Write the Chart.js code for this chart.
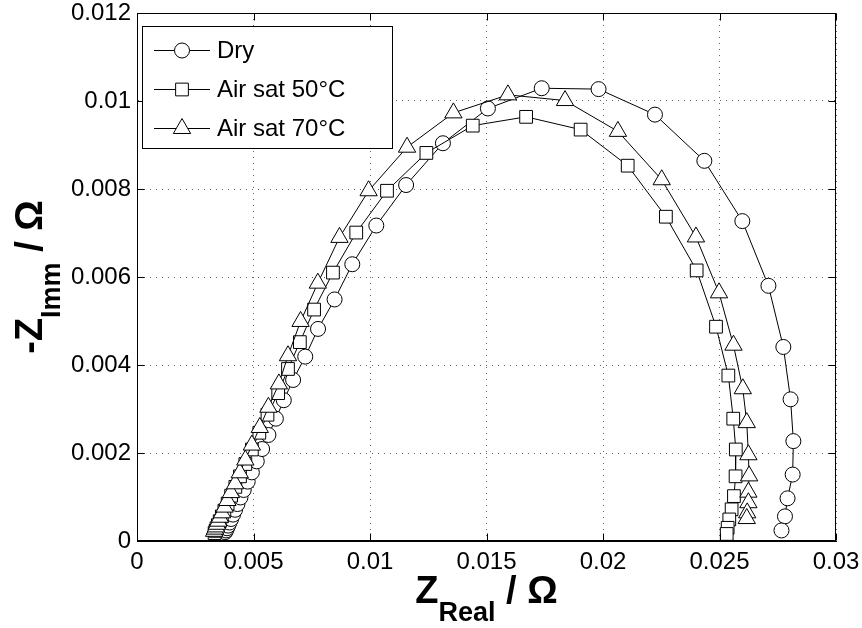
<!DOCTYPE html>
<html>
<head>
<meta charset="utf-8">
<script src="https://cdn.jsdelivr.net/npm/chart.js@4/dist/chart.umd.min.js"></script>
<style>
  html, body { margin: 0; padding: 0; background: #fff; }
  #wrap { width: 862px; height: 628px; }
</style>
</head>
<body>
<div id="wrap"><canvas id="nyquistChart" width="862" height="628"></canvas></div>
<script>
// Nyquist data, Z real / -Z imm in Ohm
const dryReal = [0.00378, 0.00382, 0.00386, 0.00391, 0.00397, 0.00404, 0.00412, 0.00421, 0.00431, 0.00444,
  0.00458, 0.00475, 0.00493, 0.00514, 0.00537, 0.00564, 0.00596, 0.00630, 0.00670,
  0.00722, 0.00777, 0.00848, 0.00924, 0.01027, 0.01155, 0.01313, 0.01506, 0.01737, 0.01981,
  0.02223, 0.02435, 0.02598, 0.02710, 0.02774, 0.02805, 0.02817, 0.02814, 0.02792, 0.02781, 0.02766];
const dryImm = [0.00020, 0.00024, 0.00029, 0.00035, 0.00042, 0.00050, 0.00060, 0.00071, 0.00084, 0.00099,
  0.00116, 0.00135, 0.00156, 0.00181, 0.00209, 0.00241, 0.00278, 0.00320, 0.00366,
  0.00419, 0.00482, 0.00549, 0.00629, 0.00717, 0.00809, 0.00904, 0.00983, 0.01029, 0.01027,
  0.00969, 0.00864, 0.00727, 0.00580, 0.00441, 0.00322, 0.00227, 0.00151, 0.00097, 0.00056, 0.00024];

const sat50Real = [0.00333, 0.00337, 0.00341, 0.00347, 0.00355, 0.00364, 0.00375, 0.00389, 0.00404, 0.00422,
  0.00442, 0.00465, 0.00493, 0.00525, 0.00560, 0.00606,
  0.00648, 0.00699, 0.00760, 0.00841, 0.00941, 0.01073, 0.01242, 0.01441, 0.01670, 0.01904,
  0.02106, 0.02270, 0.02402, 0.02485, 0.02538, 0.02559, 0.02570, 0.02569, 0.02562, 0.02552, 0.02542, 0.02535, 0.02531];
const sat50Imm = [0.00018, 0.00023, 0.00029, 0.00036, 0.00045, 0.00056, 0.00069, 0.00085, 0.00103, 0.00123,
  0.00147, 0.00175, 0.00208, 0.00246, 0.00287, 0.00336,
  0.00391, 0.00452, 0.00526, 0.00610, 0.00701, 0.00796, 0.00882, 0.00944, 0.00964, 0.00935,
  0.00853, 0.00737, 0.00615, 0.00487, 0.00376, 0.00278, 0.00208, 0.00147, 0.00102, 0.00072, 0.00049, 0.00030, 0.00016];

const sat70Real = [0.00331, 0.00335, 0.00339, 0.00343, 0.00349, 0.00356, 0.00365, 0.00376, 0.00388, 0.00403,
  0.00421, 0.00441, 0.00465, 0.00493, 0.00527, 0.00564, 0.00609,
  0.00648, 0.00702, 0.00776, 0.00869, 0.00994, 0.01159, 0.01358, 0.01592, 0.01837, 0.02064,
  0.02252, 0.02399, 0.02498, 0.02560, 0.02600, 0.02617, 0.02624, 0.02627, 0.02624, 0.02624, 0.02619, 0.02617];
const sat70Imm = [0.00022, 0.00027, 0.00032, 0.00038, 0.00045, 0.00054, 0.00064, 0.00077, 0.00092, 0.00110,
  0.00130, 0.00155, 0.00184, 0.00218, 0.00258, 0.00304, 0.00357,
  0.00421, 0.00499, 0.00586, 0.00690, 0.00796, 0.00895, 0.00973, 0.01014, 0.01001, 0.00931,
  0.00821, 0.00691, 0.00564, 0.00445, 0.00346, 0.00269, 0.00196, 0.00148, 0.00111, 0.00087, 0.00064, 0.00051];

const seriesNames = ['Dry', 'Air sat 50°C', 'Air sat 70°C'];
const xTicks = [0, 0.005, 0.01, 0.015, 0.02, 0.025, 0.03];
const yTicks = [0, 0.002, 0.004, 0.006, 0.008, 0.01, 0.012];

const FONT = "'Liberation Sans', Arial, Helvetica, sans-serif";

function toPoints(xs, ys) {
  return xs.map((x, i) => ({ x: x, y: ys[i] }));
}
function fmt(v) {
  return String(+Number(v).toFixed(4));
}

const markerStyles = [
  { pointStyle: 'circle', radius: 7.5 },
  { pointStyle: 'rect', radius: 9 },
  { pointStyle: 'triangle', radius: 10 }
];

function makeSet(i, xs, ys) {
  return {
    label: seriesNames[i],
    data: toPoints(xs, ys),
    showLine: true,
    borderColor: '#000',
    borderWidth: 1,
    tension: 0,
    fill: false,
    pointStyle: markerStyles[i].pointStyle,
    pointRadius: markerStyles[i].radius,
    pointHoverRadius: markerStyles[i].radius,
    pointBackgroundColor: '#fff',
    pointBorderColor: '#000',
    pointBorderWidth: 1,
    clip: false,
    order: 3 - i // dry first, 70°C on top
  };
}

// box, inner ticks, legend and axis titles
const matlabLook = {
  id: 'matlabLook',
  afterDraw(chart) {
    const ctx = chart.ctx;
    const a = chart.chartArea;
    const xs = chart.scales.x, ys = chart.scales.y;
    const L = Math.round(a.left) + 0.5, R = Math.round(a.right) - 0.5;
    const T = Math.round(a.top) + 0.5, B = Math.round(a.bottom) - 0.5;
    ctx.save();
    ctx.strokeStyle = '#000';
    ctx.lineWidth = 1;
    ctx.setLineDash([]);
    ctx.strokeRect(L, T, R - L, B - T);

    // inward ticks on all four sides
    const tl = 7;
    ctx.beginPath();
    xs.ticks.forEach(t => {
      const px = Math.round(xs.getPixelForValue(t.value)) + 0.5;
      ctx.moveTo(px, B); ctx.lineTo(px, B - tl);
      ctx.moveTo(px, T); ctx.lineTo(px, T + tl);
    });
    ys.ticks.forEach(t => {
      const py = Math.round(ys.getPixelForValue(t.value)) + 0.5;
      ctx.moveTo(L, py); ctx.lineTo(L + tl, py);
      ctx.moveTo(R, py); ctx.lineTo(R - tl, py);
    });
    ctx.stroke();

    // legend
    const lx = 142.5, ly = 26.5, lw = 250, lh = 122;
    ctx.fillStyle = '#fff';
    ctx.fillRect(lx, ly, lw, lh);
    ctx.strokeRect(lx, ly, lw, lh);
    const rowY = [50, 89, 128];
    seriesNames.forEach((name, i) => {
      const y = rowY[i] + 0.5;
      ctx.beginPath();
      ctx.moveTo(154, y); ctx.lineTo(210, y);
      ctx.stroke();
      ctx.fillStyle = '#fff';
      ctx.strokeStyle = '#000';
      Chart.helpers.drawPoint(ctx, {
        pointStyle: markerStyles[i].pointStyle,
        radius: markerStyles[i].radius,
        rotation: 0,
        borderWidth: 1
      }, 182, y);
      ctx.fillStyle = '#000';
      ctx.font = '24px ' + FONT;
      ctx.textAlign = 'left';
      ctx.textBaseline = 'alphabetic';
      ctx.fillText(name, 217, rowY[i] + 8);
    });

    // axis titles with subscripts
    function subTitle(main, sub, rest, cx, baseY) {
      const big = 'bold 38px ' + FONT, small = 'bold 27px ' + FONT;
      ctx.font = big; const w1 = ctx.measureText(main).width;
      ctx.font = small; const w2 = ctx.measureText(sub).width;
      ctx.font = big; const w3 = ctx.measureText(rest).width;
      let x = cx - (w1 + w2 + w3) / 2;
      ctx.fillStyle = '#000';
      ctx.textAlign = 'left';
      ctx.textBaseline = 'alphabetic';
      ctx.font = big; ctx.fillText(main, x, baseY); x += w1;
      ctx.font = small; ctx.fillText(sub, x, baseY + 18); x += w2;
      ctx.font = big; ctx.fillText(rest, x, baseY);
    }
    subTitle('Z', 'Real', ' / Ω', (a.left + a.right) / 2, 603);
    ctx.save();
    ctx.translate(42, (a.top + a.bottom) / 2);
    ctx.rotate(-Math.PI / 2);
    subTitle('-Z', 'Imm', ' / Ω', 0, 0);
    ctx.restore();
    ctx.restore();
  }
};

const gridColor = 'rgba(0,0,0,0.6)';

new Chart(document.getElementById('nyquistChart'), {
  type: 'scatter',
  data: {
    datasets: [
      makeSet(0, dryReal, dryImm),
      makeSet(1, sat50Real, sat50Imm),
      makeSet(2, sat70Real, sat70Imm)
    ]
  },
  options: {
    responsive: false,
    animation: false,
    devicePixelRatio: 1,
    layout: { padding: { top: 13, right: 26, left: 0, bottom: 0 } },
    plugins: {
      legend: { display: false },
      tooltip: { enabled: false }
    },
    scales: {
      x: {
        type: 'linear',
        min: xTicks[0],
        max: xTicks[xTicks.length - 1],
        afterBuildTicks: s => { s.ticks = xTicks.map(v => ({ value: v })); },
        afterFit: s => { s.height = 87; s.paddingLeft = 0; s.paddingRight = 0; },
        ticks: {
          color: '#000',
          font: { family: FONT, size: 24 },
          padding: 7,
          maxRotation: 0,
          autoSkip: false,
          callback: v => fmt(v)
        },
        grid: { color: gridColor, lineWidth: 1, drawTicks: false },
        border: { display: true, color: '#000', width: 1, dash: [1, 5] }
      },
      y: {
        type: 'linear',
        min: yTicks[0],
        max: yTicks[yTicks.length - 1],
        afterBuildTicks: s => { s.ticks = yTicks.map(v => ({ value: v })); },
        afterFit: s => { s.width = 137; s.paddingTop = 0; s.paddingBottom = 0; },
        ticks: {
          color: '#000',
          font: { family: FONT, size: 24 },
          padding: 6,
          autoSkip: false,
          callback: v => fmt(v)
        },
        grid: { color: gridColor, lineWidth: 1, drawTicks: false },
        border: { display: true, color: '#000', width: 1, dash: [1, 5] }
      }
    }
  },
  plugins: [matlabLook]
});
</script>
</body>
</html>
